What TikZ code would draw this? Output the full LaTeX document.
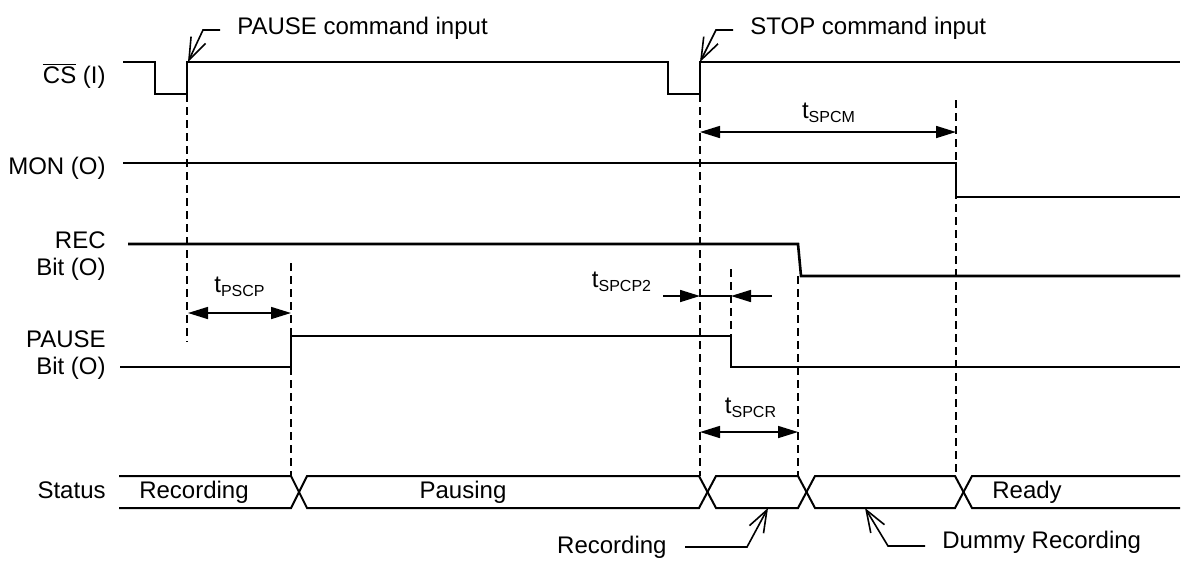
\documentclass[tikz,border=0pt]{standalone}
\usepackage{fontspec}
\setmainfont{Liberation Sans}
\usetikzlibrary{arrows.meta}

\tikzset{
  sig/.style={line width=1.3pt},
  bus/.style={line width=1pt},
  guide/.style={line width=0.7pt,dash pattern=on 4pt off 2.5pt},
  dim/.style={line width=0.8pt,{Triangle[length=10pt,width=6pt]}-{Triangle[length=10pt,width=6pt]}},
  dimto/.style={line width=0.8pt,-{Triangle[length=10pt,width=6pt]}},
  lead/.style={line width=0.8pt,-{Straight Barb[length=11pt,width=8pt]}},
  lbl/.style={font=\fontsize{12}{13.5}\selectfont,inner sep=0pt},
}

\begin{document}
\begin{tikzpicture}[x=0.5pt,y=-0.5pt,every text node part/.style={align=right}]

\useasboundingbox (0,0) rectangle (1181,563);

%%%%%%%%%%%%%%%%%%%%%%%%%%%%%%%%%%%%%%

\node[lbl,anchor=east] (cs)     at (106,76)  {$\overline{\mbox{CS}}$ (I)};
\node[lbl,anchor=east] (mon)    at (106,168) {MON (O)};
\node[lbl,anchor=east] (rec)    at (106,256) {REC\\Bit (O)};
\node[lbl,anchor=east] (pause)  at (106,355) {PAUSE\\Bit (O)};
\node[lbl,anchor=east] (status) at (106,490) {Status};

%%%%%%%%%%%%%%%%%%%%%%%%%%%%%%%%%%%%%%

\draw[sig] (123,62) -- (155,62) -- (155,94) -- (187,94) -- (187,62) -- (668,62)
  -- (668,94) -- (700,94) -- (700,62) -- (1180,62);
\draw[sig] (123,163) -- (956,163) -- (956,197) -- (1180,197);
\draw[sig] (128,244) -- (798,244) -- (801,276) -- (1180,276);
\draw[sig] (120,367) -- (291,367) -- (291,336) -- (731,336) -- (731,367) -- (1180,367);

%%%%%%%%%%%%%%%%%%%%%%%%%%%%%%%%%%%%%%

\draw[bus] (119,476) -- (291,476) -- (307,508) -- (699,508) -- (716,476) -- (798,476)
  -- (815,508) -- (955,508) -- (972,476) -- (1180,476);
\draw[bus] (119,508) -- (291,508) -- (307,476) -- (699,476) -- (716,508) -- (798,508)
  -- (815,476) -- (955,476) -- (972,508) -- (1180,508);

\node[lbl] (strec)   at (194,492)  {Recording};
\node[lbl] (stpause) at (463,492)  {Pausing};
\node[lbl] (stready) at (1027,492) {Ready};

%%%%%%%%%%%%%%%%%%%%%%%%%%%%%%%%%%%%%%

\draw[guide] (187,94) -- (187,342);
\draw[guide] (291,263) -- (291,476);
\draw[guide] (700,94) -- (700,476);
\draw[guide] (731,269) -- (731,367);
\draw[guide] (798,276) -- (798,476);
\draw[guide] (956,100) -- (956,476);

%%%%%%%%%%%%%%%%%%%%%%%%%%%%%%%%%%%%%%

\coordinate (pscpL) at (188,313);
\coordinate (pscpR) at (291,313);
\coordinate (spcmL) at (700,132);
\coordinate (spcmR) at (956,132);
\coordinate (spcrL) at (700,432);
\coordinate (spcrR) at (798,432);
\coordinate (spcp2A) at (663,296);
\coordinate (spcp2B) at (700,296);
\coordinate (spcp2C) at (731,296);
\coordinate (spcp2D) at (772,296);

\draw[dim] (pscpL) -- (pscpR);
\draw[dim] (spcmL) -- (spcmR);
\draw[dim] (spcrL) -- (spcrR);
\draw[dimto] (spcp2A) -- (spcp2B);
\draw[line width=0.8pt] (spcp2B) -- (spcp2C);
\draw[dimto] (spcp2D) -- (spcp2C);

\node[lbl] (tpscp)  at (240,287) {t\textsubscript{PSCP}};
\node[lbl] (tspcm)  at (829,113) {t\textsubscript{SPCM}};
\node[lbl] (tspcp2) at (622,282) {t\textsubscript{SPCP2}};
\node[lbl] (tspcr)  at (751,408) {t\textsubscript{SPCR}};

%%%%%%%%%%%%%%%%%%%%%%%%%%%%%%%%%%%%%%

\node[lbl,anchor=west] (pcmd) at (237,28) {PAUSE command input};
\node[lbl,anchor=west] (scmd) at (750,28) {STOP command input};
\node[lbl,anchor=east] (recnote)   at (667,547) {Recording};
\node[lbl,anchor=west] (dummynote) at (942,542) {Dummy Recording};

\coordinate (pcmdtip) at (188,62);
\coordinate (scmdtip) at (700,62);
\coordinate (rectip) at (768,508);
\coordinate (dummytip) at (865,508);

\draw[lead] ([xshift=-8.5pt,yshift=-1pt]pcmd.west) -- ++(-17,0) -- (pcmdtip);
\draw[lead] ([xshift=-8.5pt,yshift=-1pt]scmd.west) -- ++(-17,0) -- (scmdtip);
\draw[lead] ([xshift=9pt]recnote.east) -- ++(62,0) -- (rectip);
\draw[lead] ([xshift=-8.5pt,yshift=-2pt]dummynote.west) -- ++(-37,0) -- (dummytip);

\end{tikzpicture}
\end{document}
